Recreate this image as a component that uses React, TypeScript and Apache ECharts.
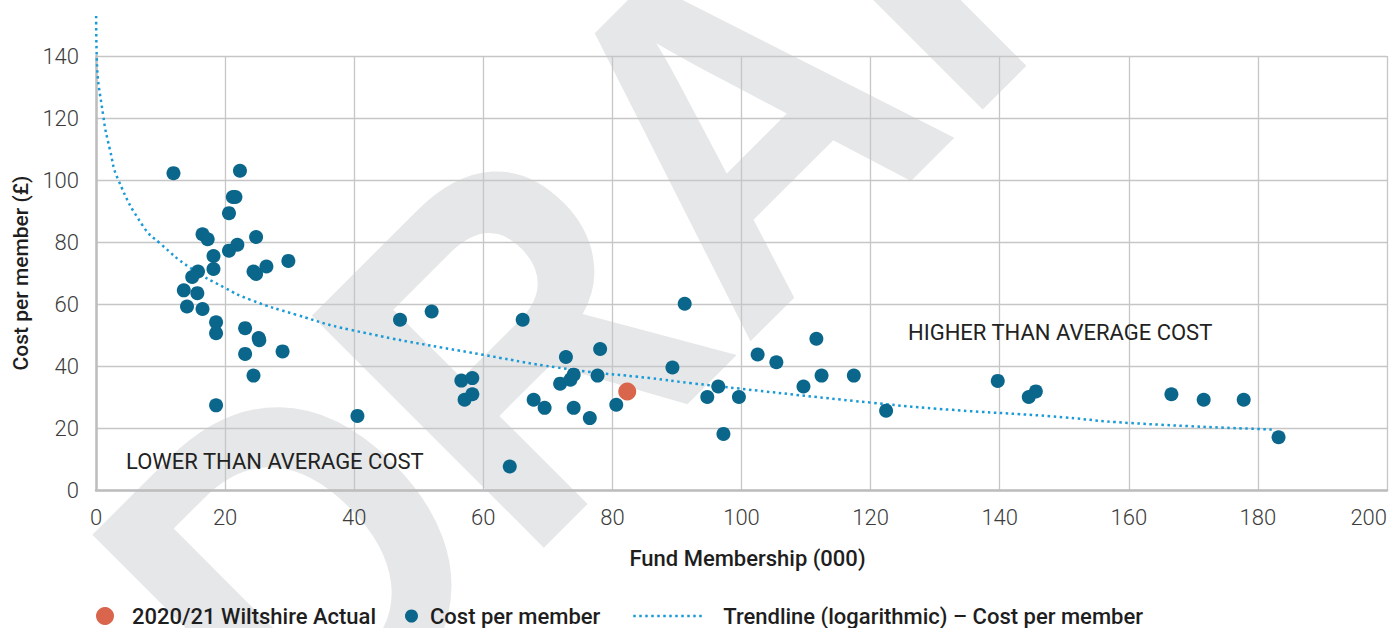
import React, { useEffect, useRef } from "react";
import * as echarts from "echarts";

// Fund membership (000) and cost per member (£)
const fundMembership = [
  12.0, 22.3, 21.2, 21.6, 20.6, 16.5, 17.3, 24.8, 21.9, 20.6,
  18.2, 18.2, 26.4, 29.8, 24.4, 24.8, 15.8, 14.9, 13.6, 15.7,
  14.1, 16.5, 18.6, 18.6, 23.1, 25.2, 25.3, 23.1, 28.9, 24.4,
  18.6, 40.5, 47.1, 52.0, 56.6, 58.3, 57.1, 58.3, 66.1, 64.1,
  67.8, 69.5, 71.9, 73.5, 74.0, 72.8, 78.1, 77.7, 74.0, 76.5,
  80.6, 89.3, 91.2, 94.7, 96.4, 99.6, 97.2, 102.5, 105.4, 109.6,
  111.6, 112.4, 117.4, 122.4, 139.7, 144.5, 145.6, 166.6, 171.6, 177.8,
  183.2,
];
const fundCost = [
  102.2, 103.0, 94.5, 94.5, 89.3, 82.5, 80.9, 81.6, 79.1, 77.2,
  75.5, 71.3, 72.1, 73.9, 70.5, 69.7, 70.5, 68.7, 64.4, 63.5,
  59.2, 58.4, 54.1, 50.6, 52.2, 49.0, 48.3, 43.9, 44.7, 36.9,
  27.3, 23.9, 54.9, 57.6, 35.3, 36.1, 29.1, 30.9, 54.9, 7.6,
  29.1, 26.5, 34.3, 35.6, 37.2, 42.9, 45.5, 36.9, 26.5, 23.2,
  27.5, 39.5, 60.1, 30.0, 33.4, 30.0, 18.1, 43.7, 41.2, 33.4,
  48.8, 36.9, 36.9, 25.6, 35.2, 30.0, 31.8, 30.9, 29.1, 29.1,
  17.0,
];

const wiltshireMembership = [82.3];
const wiltshireCost = [31.8];

// Points read along the drawn logarithmic trendline
const trendMembership = [0.02, 0.11, 1.13, 2.17, 3.44, 7.33, 9.91, 14.56, 19.98, 23.86, 31.09, 39.35, 60.0, 73.9, 85.8, 92.0, 120.4, 132.3, 147.8, 160.2, 182.6];
const trendCost = [152.9, 140.0, 120.6, 109.7, 100.1, 85.0, 79.6, 71.7, 65.2, 61.4, 56.5, 51.7, 43.6, 38.8, 36.1, 34.5, 28.1, 25.9, 23.8, 21.6, 19.5];

const seriesNames = ["2020/21 Wiltshire Actual", "Cost per member", "Trendline (logarithmic) \u2013 Cost per member"];
const xAxisTitle = "Fund Membership (000)";
const yAxisTitle = "Cost per member (\u00a3)";
const lowerLabel = "LOWER THAN AVERAGE COST";
const higherLabel = "HIGHER THAN AVERAGE COST";
const watermark = "DRAFT";

const TEAL = "#0a668a";
const ORANGE = "#d8654c";
const TREND = "#1a9ad6";
const MAIN = 'Roboto, "Noto Sans", sans-serif';

export default function App() {
  const ref = useRef<HTMLDivElement>(null);

  useEffect(() => {
    document.documentElement.style.overflow = "hidden";
    document.body.style.margin = "0";
    document.body.style.overflow = "hidden";
    const chart = echarts.init(ref.current!, null, { renderer: "svg", width: 1397, height: 628 });
    const fundData = fundMembership.map((x, i) => [x, fundCost[i]]);
    const wiltData = wiltshireMembership.map((x, i) => [x, wiltshireCost[i]]);
    const trendData = trendMembership.map((x, i) => [x, trendCost[i]]);

    const legendText = { fontFamily: MAIN, fontSize: 22, fontWeight: 500, color: "#1e1e1e" };

    chart.setOption({
      animation: false,
      backgroundColor: "#ffffff",
      grid: { left: 96, right: 10, top: 56, bottom: 138, containLabel: false },
      xAxis: {
        type: "value",
        min: 0,
        max: 200,
        interval: 20,
        name: xAxisTitle,
        nameLocation: "middle",
        nameGap: 57,
        nameTextStyle: { fontFamily: MAIN, fontSize: 22, fontWeight: 500, color: "#1e1e1e", padding: [0, 0, 0, 12] },
        axisLine: { show: true, lineStyle: { color: "#bdbdbd", width: 2.5 } },
        axisTick: { show: false },
        axisLabel: { fontFamily: MAIN, fontSize: 22, fontWeight: 300, color: "#3c3c3c", margin: 16, alignMaxLabel: "right" },
        splitLine: { show: true, lineStyle: { color: "#c6c6c6", width: 1.3 } },
      },
      yAxis: {
        type: "value",
        min: 0,
        max: 140,
        interval: 20,
        name: yAxisTitle,
        nameLocation: "middle",
        nameGap: 64,
        nameTextStyle: { fontFamily: MAIN, fontSize: 21, fontWeight: 500, color: "#1e1e1e" },
        axisLine: { show: true, lineStyle: { color: "#bdbdbd", width: 2.5 } },
        axisTick: { show: false },
        axisLabel: { fontFamily: MAIN, fontSize: 22, fontWeight: 300, color: "#3c3c3c", margin: 17 },
        splitLine: { show: true, lineStyle: { color: "#c6c6c6", width: 1.3 } },
      },
      legend: [
        {
          data: [{ name: seriesNames[0], icon: "circle" }],
          left: 96, top: 605, itemWidth: 18, itemHeight: 18, padding: 0,
          textStyle: { ...legendText, padding: [0, 0, 0, 13] },
        },
        {
          data: [{ name: seriesNames[1], icon: "circle" }],
          left: 405, top: 605, itemWidth: 13, itemHeight: 13, padding: 0,
          textStyle: { ...legendText, padding: [0, 0, 0, 7] },
        },
        {
          data: [{ name: seriesNames[2] }],
          left: 632, top: 605, itemWidth: 70, itemHeight: 14, padding: 0,
          itemStyle: { opacity: 0 },
          lineStyle: { color: TREND, width: 2.5, type: [2.5, 3.5], opacity: 1 },
          textStyle: { ...legendText, padding: [0, 0, 0, 15] },
        },
      ],
      graphic: [
        {
          type: "text",
          x: 187,
          y: 670,
          rotation: 0.785,
          scaleX: 0.9,
          scaleY: 1,
          z: -100,
          silent: true,
          style: {
            text: watermark,
            font: 'bold 477px "Liberation Sans", Arial, sans-serif',
            fill: "#e6e7e8",
            textAlign: "left",
            textVerticalAlign: "middle",
          },
        },
        {
          type: "text",
          x: 126,
          y: 461,
          z: 50,
          style: { text: lowerLabel, font: `22px ${MAIN}`, fill: "#222", textAlign: "left", textVerticalAlign: "middle" },
        },
        {
          type: "text",
          x: 908,
          y: 332,
          z: 50,
          style: { text: higherLabel, font: `22px ${MAIN}`, fill: "#222", textAlign: "left", textVerticalAlign: "middle" },
        },
      ],
      series: [
        {
          name: seriesNames[2],
          type: "line",
          data: trendData,
          showSymbol: false,
          symbol: "none",
          smooth: 0.5,
          clip: false,
          z: 3,
          itemStyle: { color: TREND },
          lineStyle: { color: TREND, width: 2.5, type: [2.5, 3.5] },
        },
        {
          name: seriesNames[1],
          type: "scatter",
          data: fundData,
          symbol: "circle",
          symbolSize: 14,
          z: 4,
          itemStyle: { color: TEAL, opacity: 1 },
        },
        {
          name: seriesNames[0],
          type: "scatter",
          data: wiltData,
          symbol: "circle",
          symbolSize: 18,
          z: 5,
          itemStyle: { color: ORANGE, opacity: 1 },
        },
      ],
    });
    return () => chart.dispose();
  }, []);

  return (
    <div
      ref={ref}
      style={{ position: "fixed", left: 0, top: 0, width: 1397, height: 628, overflow: "hidden" }}
    />
  );
}
